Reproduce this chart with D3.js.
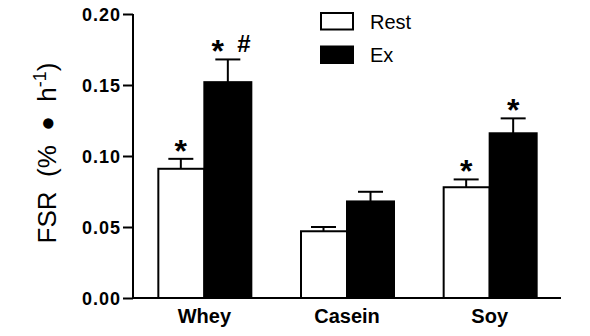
<!DOCTYPE html>
<html>
<head>
<meta charset="utf-8">
<script src="https://cdn.jsdelivr.net/npm/d3@7"></script>
<style>
  html, body { margin: 0; padding: 0; background: #fff; }
  svg { display: block; font-family: "Liberation Sans", Arial, sans-serif; }
</style>
</head>
<body>
<svg id="chart" width="590" height="336"></svg>
<script>
// Protein source groups
const categories = ["Whey", "Casein", "Soy"];
const seriesNames = ["Rest", "Ex"];

// Mean FSR (%·h⁻¹) and SEM for each condition
const restValues = [0.091, 0.047, 0.078];
const restErrors = [0.007, 0.003, 0.0055];
const exValues = [0.152, 0.068, 0.116];
const exErrors = [0.016, 0.0068, 0.0105];

// Significance markers shown above each bar
const restMarks = ["*", "", "*"];
const exMarks = ["*", "", "*"];
const exHashMarks = ["#", "", ""];

const yTicks = [0, 0.05, 0.10, 0.15, 0.20];

const svg = d3.select("#chart");
const plotLeft = 133, plotRight = 561, plotTop = 14, plotBottom = 298;
const barWidth = 47;

const x0 = d3.scaleBand().domain(categories).range([plotLeft, plotRight]).padding(0);
const x1 = d3.scaleBand().domain(seriesNames)
  .range([x0.bandwidth() / 2 - barWidth, x0.bandwidth() / 2 + barWidth]).padding(0);
const y = d3.scaleLinear().domain([0, 0.2]).range([plotBottom, plotTop]);

const rows = [];
categories.forEach((c, i) => {
  rows.push({ cat: c, series: "Rest", v: restValues[i], e: restErrors[i], mark: restMarks[i], hash: "" });
  rows.push({ cat: c, series: "Ex", v: exValues[i], e: exErrors[i], mark: exMarks[i], hash: exHashMarks[i] });
});
const cx = d => x0(d.cat) + x1(d.series) + x1.bandwidth() / 2;

// Error bars (drawn first so bar tops sit over the stems)
const eb = svg.append("g").attr("stroke", "#000").attr("stroke-width", 2);
eb.selectAll("line.stem").data(rows).join("line")
  .attr("class", "stem")
  .attr("x1", cx).attr("x2", cx)
  .attr("y1", d => y(d.v)).attr("y2", d => y(d.v + d.e));
eb.selectAll("line.cap").data(rows).join("line")
  .attr("class", "cap")
  .attr("x1", d => cx(d) - 12.5).attr("x2", d => cx(d) + 12.5)
  .attr("y1", d => y(d.v + d.e)).attr("y2", d => y(d.v + d.e));

// Bars
svg.append("g").selectAll("rect").data(rows).join("rect")
  .attr("x", d => x0(d.cat) + x1(d.series) + (d.series === "Rest" ? 1 : 0))
  .attr("y", d => y(d.v))
  .attr("width", d => x1.bandwidth() - (d.series === "Rest" ? 1 : 0))
  .attr("height", d => y(0) - y(d.v))
  .attr("fill", d => d.series === "Rest" ? "#fff" : "#000")
  .attr("stroke", "#000")
  .attr("stroke-width", 2);

// Significance asterisks and hash
const marks = svg.append("g").attr("font-weight", "bold").attr("fill", "#000");
marks.selectAll("text.star").data(rows.filter(d => d.mark)).join("text")
  .attr("class", "star")
  .attr("x", d => cx(d) + (d.hash ? -10 : 0))
  .attr("y", d => y(d.v + d.e) - 10 + 13)
  .attr("text-anchor", "middle")
  .attr("font-size", 32)
  .text(d => d.mark);
marks.selectAll("text.hash").data(rows.filter(d => d.hash)).join("text")
  .attr("class", "hash")
  .attr("x", d => cx(d) + 16)
  .attr("y", d => y(d.v + d.e) - 7.5)
  .attr("text-anchor", "middle")
  .attr("font-size", 24)
  .text(d => d.hash);

// Y axis
const yAxis = svg.append("g")
  .attr("transform", `translate(${plotLeft},0)`)
  .call(d3.axisLeft(y).tickValues(yTicks).tickFormat(d3.format(".2f")).tickSize(10).tickPadding(2));
yAxis.select(".domain").attr("stroke", "#000").attr("stroke-width", 2).attr("d", `M0,${plotTop}V${plotBottom}`);
yAxis.selectAll(".tick line").attr("stroke", "#000").attr("stroke-width", 2);
yAxis.selectAll(".tick text")
  .attr("font-size", 18).attr("font-weight", "bold").attr("fill", "#000")
  .attr("font-family", "Liberation Sans, Arial, sans-serif")
  .attr("letter-spacing", 1)
  .attr("dy", "0.36em");

// X axis
const xAxis = svg.append("g")
  .attr("transform", `translate(0,${plotBottom})`)
  .call(d3.axisBottom(x0).tickSize(0).tickPadding(10));
xAxis.select(".domain").attr("stroke", "#000").attr("stroke-width", 2).attr("d", `M${plotLeft},0H${plotRight}`);
xAxis.selectAll(".tick text")
  .attr("font-size", 20).attr("font-weight", "bold").attr("fill", "#000")
  .attr("font-family", "Liberation Sans, Arial, sans-serif")
  .attr("dy", "0.75em");

// Y axis title
const title = svg.append("text")
  .attr("transform", "translate(56,153) rotate(-90)")
  .attr("text-anchor", "middle")
  .attr("font-size", 26)
  .attr("fill", "#000")
  .attr("xml:space", "preserve");
title.append("tspan").text("FSR  (%  ");
title.append("tspan").attr("font-size", 24).attr("dy", -1).text("\u25CF");
title.append("tspan").attr("dy", 1).text("  h");
title.append("tspan").attr("dy", -10).attr("font-size", 18).text("-1");
title.append("tspan").attr("dy", 10).text(")");

// Legend
const legend = svg.append("g").attr("transform", "translate(321,13)");
seriesNames.forEach((s, i) => {
  const g = legend.append("g").attr("transform", `translate(0,${i * 33.5})`);
  g.append("rect").attr("x", 0).attr("y", 0).attr("width", 32).attr("height", 16.5)
    .attr("fill", s === "Rest" ? "#fff" : "#000").attr("stroke", "#000").attr("stroke-width", 2);
  g.append("text").attr("x", 49).attr("y", 15.5).attr("font-size", 20).attr("fill", "#000").text(s);
});
</script>
</body>
</html>
